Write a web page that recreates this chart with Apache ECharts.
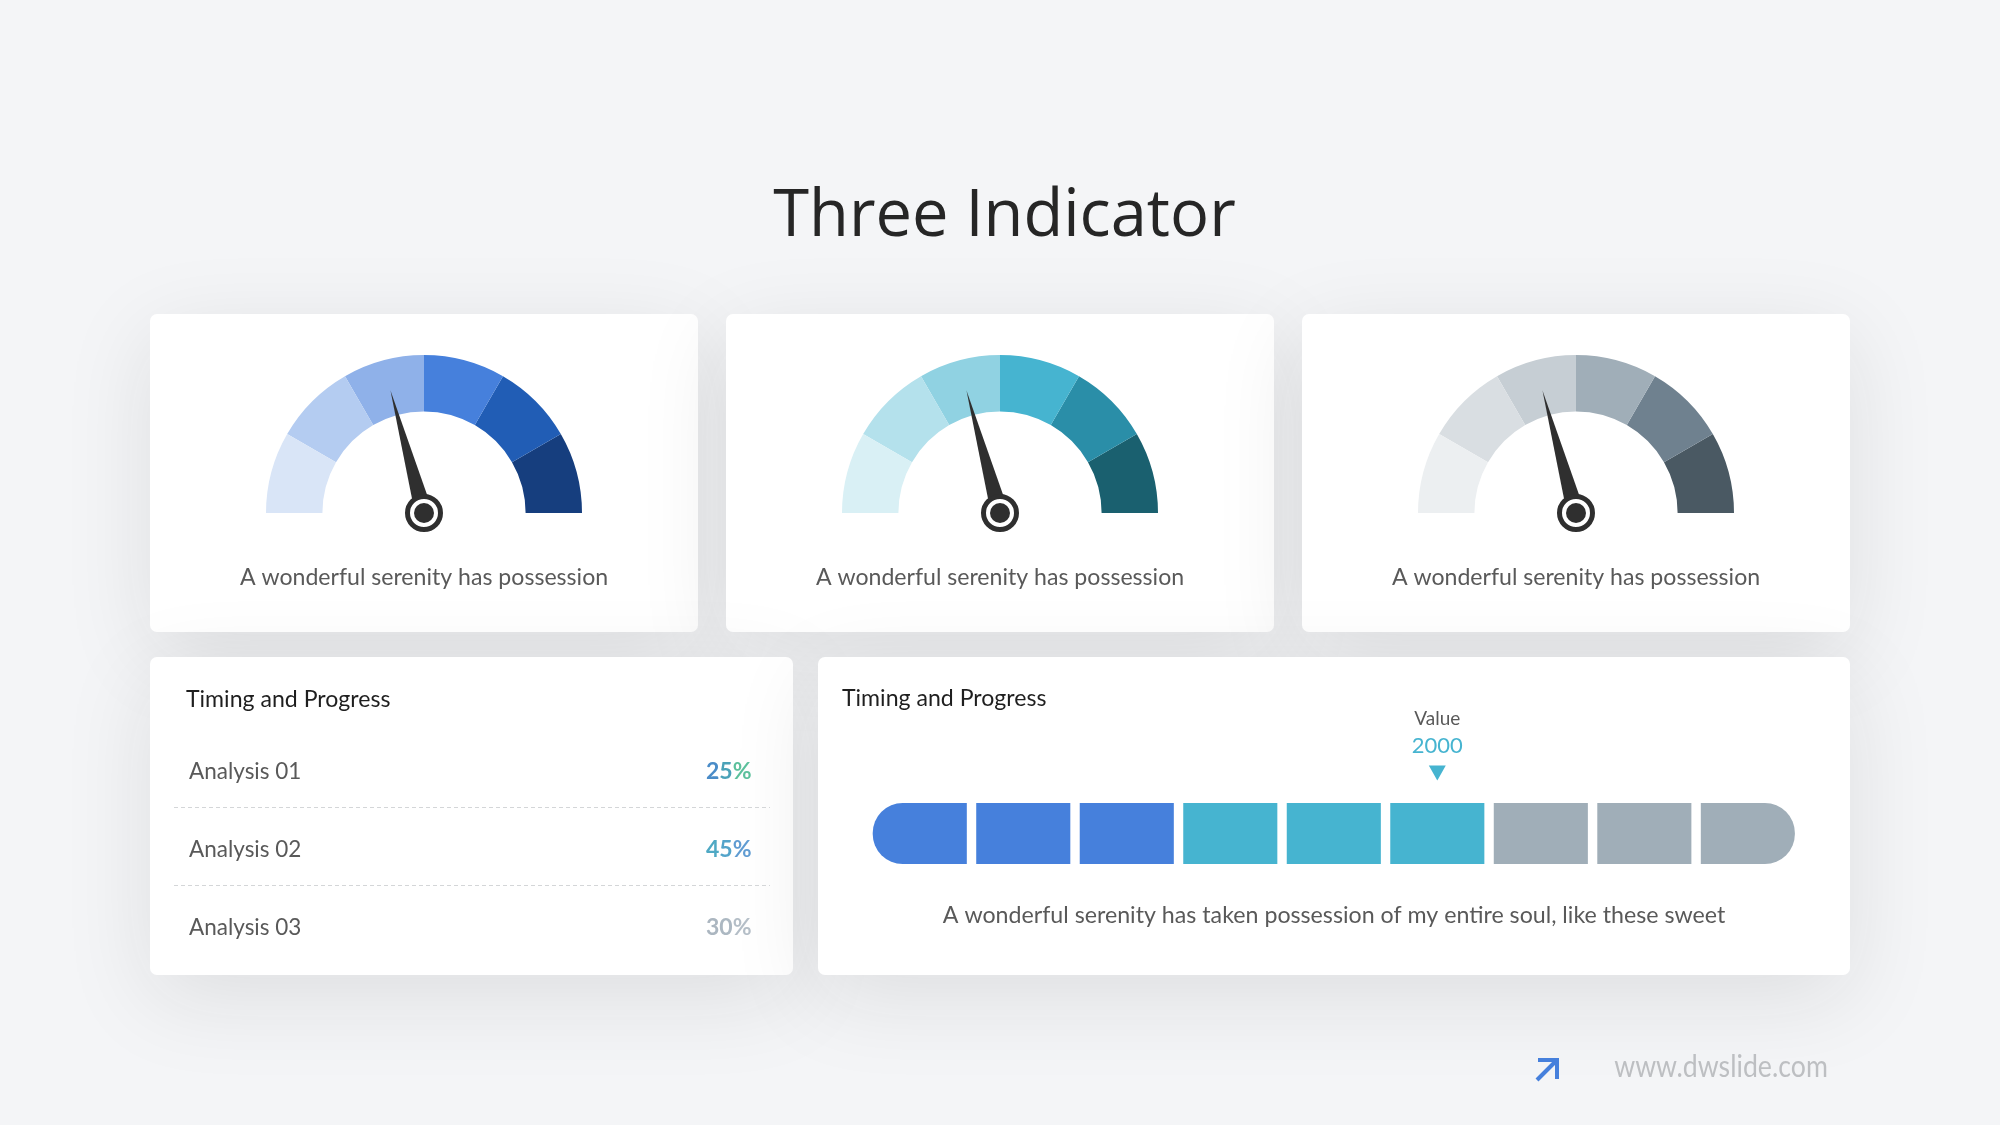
<!DOCTYPE html>
<html><head><meta charset="utf-8">
<style>html,body{margin:0;padding:0;background:#f4f5f7}#c{width:2000px;height:1125px}</style>
<script src="https://cdn.jsdelivr.net/npm/echarts@6/dist/echarts.min.js"></script>
</head><body><div id="c"></div>
<script>
const pageTitle = 'Three Indicator';
const gaugeCaption = 'A wonderful serenity has possession';
const gaugeValues = [41.5, 41.5, 41.5];
const gaugePalettes = [
  ['#D9E5F7','#B4CCF1','#8FB1E9','#4680DC','#215DB5','#163E7E'],
  ['#D9F0F5','#B4E1EC','#90D2E2','#46B4D0','#2A8EA8','#1A606F'],
  ['#ECEFF1','#D9DEE2','#C6CED4','#A0AEB8','#6F818F','#4A5963']
];
const panelTitle = 'Timing and Progress';
const analysisNames = ['Analysis 01','Analysis 02','Analysis 03'];
const analysisValues = [25, 45, 30];
const analysisDigitColors = [
  ['#4A8CC8','#4AA2B8','#5CC09C'],
  ['#4FA9C4','#53A4CA','#609CD2'],
  ['#ABB6C0','#ACB8C2','#B4BEC7']
];
const progressCategories = ['1','2','3','4','5','6','7','8','9'];
const progressValues = [1,1,1,1,1,1,1,1,1];
const progressColors = ['#4680DC','#4680DC','#4680DC','#46B4D0','#46B4D0','#46B4D0','#A0AEB8','#A0AEB8','#A0AEB8'];
const markerCategory = '6';
const markerLabel = 'Value';
const markerValue = 2000;
const progressCaption = 'A wonderful serenity has taken possession of my entire soul, like these sweet';
const siteText = 'www.dwslide.com';

const FONT = 'Lato, "Open Sans", sans-serif';
const gaugeCenters = [424, 1000, 1576];
const gaugeCy = 513;

const cards = [[150,314,548,318],[726,314,548,318],[1302,314,548,318],[150,657,643,318],[818,657,1032,318]];
const graphics = [];
cards.forEach(c => graphics.push({type:'rect',z:0,shape:{x:c[0],y:c[1],width:c[2],height:c[3],r:7},
  style:{fill:'#fff',shadowBlur:90,shadowColor:'rgba(30,30,30,0.10)',shadowOffsetY:22}}));
function txt(text,x,y,size,fill,align,font,extra){
  graphics.push(Object.assign({type:'text',z:10,x:x,y:y,style:{text:text,fontSize:size,fill:fill,align:align||'left',verticalAlign:'middle',fontFamily:font||FONT}},extra||{}));
}
txt(pageTitle,1004.5,217,65,'#262626','center','"Open Sans", sans-serif');
gaugeCenters.forEach(cx=>txt(gaugeCaption,cx,578,23.1,'#595959','center'));
txt(panelTitle,186,700,23.1,'#1f1f1f');
txt(panelTitle,842,699,23.1,'#1f1f1f');
txt(progressCaption,1334,916,23.2,'#595959','center');
const rowY=[772,850,928];
analysisNames.forEach((n,i)=>{
  txt(n,189,rowY[i],22.5,'#595959');
  const s=String(analysisValues[i])+'%', cols=analysisDigitColors[i], rich={};
  let t='';
  s.split('').forEach((ch,j)=>{rich['p'+j]={fill:cols[j],fontSize:23,fontWeight:'bold',fontFamily:FONT};t+='{p'+j+'|'+ch+'}';});
  graphics.push({type:'text',z:10,x:751.5,y:rowY[i],style:{text:t,rich:rich,align:'right',verticalAlign:'middle',fontFamily:FONT,fontSize:23,fontWeight:'bold'}});
});
[807.5,885.5].forEach(y=>graphics.push({type:'line',z:5,shape:{x1:174,y1:y,x2:770,y2:y},style:{stroke:'#d4d6d8',lineWidth:1,lineDash:[4,3]}}));
txt(siteText,1721,1067,30,'#bdbfc2','center',null,{scaleX:0.89});
graphics.push({type:'polyline',z:10,shape:{points:[[1538,1060],[1557,1060],[1557,1079]]},style:{stroke:'#4680DC',lineWidth:4,fill:null}});
graphics.push({type:'line',z:10,shape:{x1:1537,y1:1080,x2:1556,y2:1061},style:{stroke:'#4680DC',lineWidth:4}});

const series = [];
gaugeCenters.forEach((cx,i)=>{
  const pal = gaugePalettes[i];
  series.push({type:'gauge',z:3,center:[cx,gaugeCy],radius:158,startAngle:180,endAngle:0,min:0,max:100,
    axisLine:{lineStyle:{width:56.4,color:pal.map((c,k)=>[(k+1)/pal.length,c])}},
    axisTick:{show:false},splitLine:{show:false},axisLabel:{show:false},title:{show:false},detail:{show:false},
    progress:{show:false},
    pointer:{icon:'triangle',length:127,width:18,itemStyle:{color:'#2f2f2f'}},
    anchor:{show:true,showAbove:true,icon:'circle',size:33,itemStyle:{color:'#fff',borderColor:'#2f2f2f',borderWidth:5}},
    data:[{value:gaugeValues[i]}],animation:false});
  series.push({type:'gauge',z:4,center:[cx,gaugeCy],radius:158,startAngle:180,endAngle:0,min:0,max:100,
    axisLine:{show:false},axisTick:{show:false},splitLine:{show:false},axisLabel:{show:false},title:{show:false},detail:{show:false},
    pointer:{show:false},
    anchor:{show:true,showAbove:true,icon:'circle',size:20,itemStyle:{color:'#2f2f2f',borderWidth:0}},
    data:[{value:gaugeValues[i]}],animation:false});
});
series.push({type:'bar',z:3,data:progressValues.map((v,i)=>({value:v,itemStyle:{color:progressColors[i],
    borderRadius:i===0?[30,0,0,30]:(i===progressValues.length-1?[0,30,30,0]:0)}})),
  barCategoryGap:'9.1%',silent:true,animation:false});
series.push({type:'scatter',z:4,data:[[markerCategory,1.49]],symbol:'triangle',symbolRotate:180,symbolSize:[17,15],
  itemStyle:{color:'#46B4D0',opacity:1},silent:true,animation:false,
  label:{show:true,position:'top',distance:7,formatter:'{a|'+markerLabel+'}\n{b|'+markerValue+'}',
    rich:{a:{fontSize:19,color:'#595959',fontFamily:FONT,lineHeight:28,align:'center'},
          b:{fontSize:22,color:'#46B4D0',fontFamily:FONT,lineHeight:26,align:'center'}}}});

const chart = echarts.init(document.getElementById('c'),null,{width:2000,height:1125});
chart.setOption({
  animation:false,
  backgroundColor:'#f4f5f7',
  graphic:{elements:graphics},
  grid:{left:868,top:742,width:931.6,height:122,containLabel:false},
  xAxis:{type:'category',data:progressCategories,show:false},
  yAxis:{type:'value',min:0,max:2,show:false},
  series:series
});
</script></body></html>
